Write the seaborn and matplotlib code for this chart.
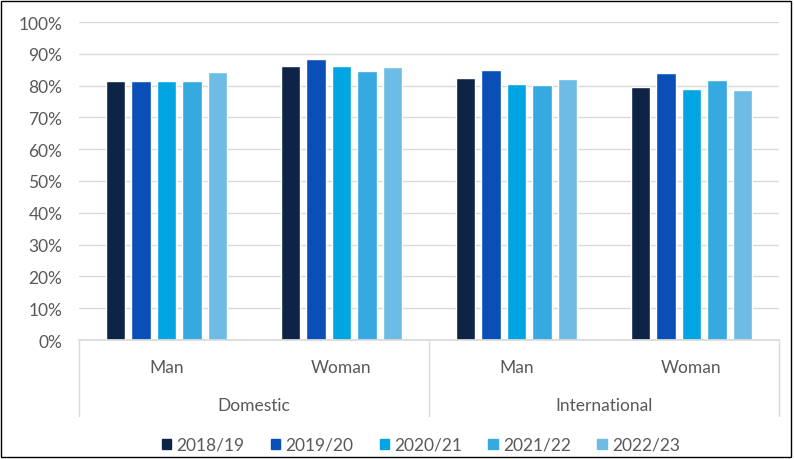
import matplotlib
matplotlib.use("Agg")
import matplotlib.pyplot as plt
import matplotlib.patches as mpatches
from matplotlib.lines import Line2D
from matplotlib.ticker import PercentFormatter
import seaborn as sns
import pandas as pd

# ---- data ----
groups = ["Domestic", "International"]
genders = ["Man", "Woman"]
years = ["2018/19", "2019/20", "2020/21", "2021/22", "2022/23"]
dom_man = [81.4, 81.6, 81.6, 81.3, 84.3]
dom_woman = [86.3, 88.3, 86.3, 84.7, 85.9]
int_man = [82.3, 84.9, 80.4, 80.2, 82.2]
int_woman = [79.7, 84.0, 79.0, 81.9, 78.5]
colors = ["#0E2447", "#0A4FB8", "#00A5E2", "#35A9E0", "#6CBCE6"]

series = [("Domestic", "Man", dom_man), ("Domestic", "Woman", dom_woman),
          ("International", "Man", int_man), ("International", "Woman", int_woman)]
rows = []
for g, s, vals in series:
    for y, v in zip(years, vals):
        rows.append({"cat": f"{g}|{s}", "year": y, "value": v})
df = pd.DataFrame(rows)
cat_order = [f"{g}|{s}" for g, s, _ in series]

sns.set_theme(style="white")
plt.rcParams["font.family"] = ["Lato", "DejaVu Sans"]
FS = 12.5
TXT = "#595959"

fig = plt.figure(figsize=(7.94, 4.6), dpi=100)
ax = fig.add_axes([79/794, 1-341/460, (779-79)/794, (341-23)/460])

sns.barplot(data=df, x="cat", y="value", hue="year", order=cat_order,
            hue_order=years, palette=colors, width=0.73, gap=0.23,
            saturation=1, ax=ax, legend=False)

ax.set_ylim(0, 100)
ax.set_xlim(-0.5, 3.5)
ax.set_yticks(range(0, 101, 10))
ax.yaxis.set_major_formatter(PercentFormatter(decimals=0))
ax.grid(axis="y", color="#D9D9D9", linewidth=1)
ax.set_axisbelow(True)
for sp in ["left", "right", "top"]:
    ax.spines[sp].set_visible(False)
ax.spines["bottom"].set_color("#D9D9D9")
ax.tick_params(axis="y", length=0, labelsize=FS, labelcolor=TXT, pad=12)
ax.tick_params(axis="x", length=0, labelsize=FS, labelcolor=TXT, pad=14)
ax.set_xticks(range(4))
ax.set_xticklabels([s for _, s, _ in series])
ax.set_xlabel("")
ax.set_ylabel("")

# group labels and separators
trans = ax.get_xaxis_transform()
for i, g in enumerate(groups):
    ax.text(2*i + 0.5, -0.205, g, transform=trans, ha="center", va="center",
            fontsize=FS, color=TXT)
for xpos in [-0.5, 1.5, 3.5]:
    ax.add_line(Line2D([xpos, xpos], [0, -0.24], transform=trans, color="#D9D9D9",
                       linewidth=1, clip_on=False))

# legend
handles = [mpatches.Patch(facecolor=c, edgecolor=c) for c in colors]
fig.legend(handles, years, loc="center", bbox_to_anchor=(0.53, 1-446/460), ncol=5,
           frameon=False, handlelength=0.55, handleheight=0.55, handletextpad=0.3,
           columnspacing=1.5, fontsize=FS, labelcolor=TXT)

# border
fig.patches.append(mpatches.Rectangle((1/794, 2/460), 790/794, 456/460, transform=fig.transFigure,
                                      fill=False, edgecolor="black", linewidth=1))

fig.savefig("out.png", dpi=100)
